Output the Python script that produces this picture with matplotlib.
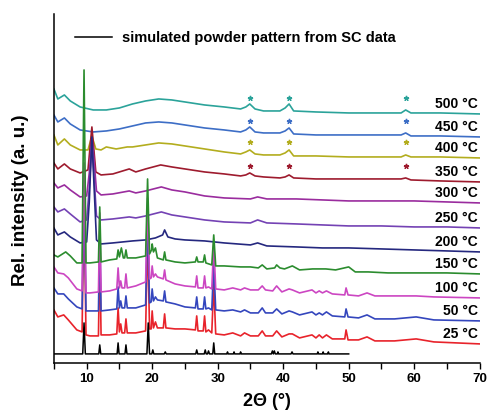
import matplotlib
matplotlib.use('Agg')
import matplotlib.pyplot as plt

plt.rcParams['font.family'] = ['Liberation Sans', 'DejaVu Sans']
plt.rcParams['font.weight'] = 'bold'

# --- data (intensity in arbitrary units) ---
LABELS = ['500 °C', '450 °C', '400 °C', '350 °C', '300 °C', '250 °C',
          '200 °C', '150 °C', '100 °C', '50 °C', '25 °C']
OFFSETS = [249, 226, 205, 181, 160, 135, 111, 89, 65, 42, 19]
COLORS = ['#2ba39a', '#3d6ec6', '#b3ad1e', '#9e1b2e', '#9a2c9e', '#7442b4',
          '#25287f', '#2b8c2e', '#cc46c2', '#3446bd', '#e8232b']
SIM_OFFSET = 9

# amorphous patterns (450-500 °C share the x grid)
X_HT = [5.0, 5.6, 6.6, 7.5, 9.0, 11.0, 13.0, 15.0, 17.0, 19.0, 21.0, 23.0,
        25.0, 28.0, 31.0, 33.5, 34.3, 34.9, 35.7, 37.0, 39.5, 40.3, 40.9,
        41.6, 45.0, 50.0, 55.0, 58.0, 58.7, 59.5, 64.0, 70.0]
Y_500 = [25, 15, 19, 13, 7, 4, 4, 6, 10, 13, 15, 14, 12, 9, 7, 5, 7, 10, 5,
         3, 3, 6, 10, 3, 2, 1, 1, 1, 4, 1, 1, 0]
Y_450 = [22, 15, 19, 13, 7, 5, 6, 8, 11, 14, 15, 14, 12, 9, 7, 5, 7, 10, 5,
         4, 4, 6, 9, 3, 2, 2, 2, 2, 4, 1, 1, 0]

X_400 = [5.0, 5.6, 6.6, 7.5, 9.0, 10.2, 10.8, 11.4, 12.2, 13.0, 14.5, 16.2,
         17.0, 19.0, 21.0, 23.0, 25.0, 28.0, 31.0, 33.5, 34.3, 34.9, 35.7,
         37.0, 39.5, 40.3, 40.9, 41.6, 45.0, 50.0, 55.0, 58.0, 58.7, 59.5,
         64.0, 70.0]
Y_400 = [23, 13, 19, 13, 8, 8, 22, 9, 8, 11, 9, 11, 11, 13, 15, 14, 12, 9,
         6, 4, 6, 8, 4, 3, 3, 5, 8, 2, 2, 1, 1, 1, 3, 1, 1, 0]

X_350 = [5.0, 5.6, 6.6, 7.5, 9.0, 10.2, 10.8, 11.4, 12.2, 14.0, 16.5, 17.5,
         19.0, 21.3, 23.0, 25.0, 28.0, 31.0, 33.5, 34.3, 34.9, 35.7, 37.0,
         39.5, 40.3, 40.9, 41.6, 45.0, 50.0, 55.0, 58.0, 58.7, 59.5, 64.0,
         70.0]
Y_350 = [19, 13, 18, 13, 9, 12, 55, 10, 7, 8, 13, 10, 13, 17, 15, 13, 10, 8,
         6, 7, 9, 6, 5, 4, 5, 7, 4, 3, 3, 3, 3, 4, 2, 1, 0]

X_MID = [5.0, 5.6, 6.6, 7.5, 9.0, 10.0, 10.4, 10.8, 11.1, 11.5, 12.2, 14.0,
         16.5, 17.5, 19.0, 21.4, 23.0, 25.0, 28.0, 31.0, 35.0, 36.1, 37.5,
         42.0, 46.0, 50.0, 55.0, 60.0, 65.0, 70.0]
Y_300 = [20, 15, 18, 13, 6, 7, 30, 65, 45, 12, 8, 9, 12, 10, 12, 16, 13, 11,
         7, 5, 4, 6, 4, 4, 3, 2, 2, 2, 1, 0]
Y_250 = [21, 16, 19, 14, 6, 8, 40, 85, 55, 12, 8, 9, 11, 10, 12, 16, 13, 11,
         8, 6, 5, 8, 5, 4, 3, 2, 2, 1, 1, 0]

X_200 = [5.0, 5.6, 6.6, 7.5, 9.0, 10.0, 10.4, 10.8, 11.1, 11.5, 12.2, 14.0,
         17.0, 19.0, 20.5, 21.6, 21.9, 22.4, 23.5, 25.0, 28.0, 31.0, 35.0,
         36.1, 37.5, 42.0, 46.0, 50.0, 55.0, 60.0, 65.0, 70.0]
Y_200 = [24, 17, 20, 15, 9, 10, 50, 115, 70, 12, 8, 9, 11, 12, 14, 17, 22,
         15, 13, 12, 11, 9, 7, 9, 6, 5, 4, 4, 3, 2, 1, 0]

# crystalline patterns (25-100 °C share the x grid)
X_CR = [5.0, 5.6, 6.5, 7.2, 8.5, 9.3, 9.6, 9.9, 10.5, 11.8, 12.0, 12.2, 13.5,
        14.6, 14.8, 15.0, 15.2, 15.4, 15.8, 16.0, 16.2, 17.5, 19.0, 19.3,
        19.6, 19.85, 20.0, 20.2, 20.5, 20.8, 21.7, 21.9, 22.1, 23.5, 25.0,
        26.6, 26.8, 27.0, 27.8, 28.0, 28.2, 28.6, 29.1, 29.4, 29.7, 31.0,
        32.3, 33.5, 34.1, 35.0, 36.2, 36.8, 37.3, 38.4, 39.0, 39.8, 40.9,
        41.4, 42.5, 44.4, 45.0, 45.5, 46.0, 46.6, 47.5, 49.4, 49.6, 49.9,
        51.5, 52.8, 54.0, 57.0, 60.3, 63.0, 70.0]
Y_25 = [34, 27, 29, 24, 14, 12, 150, 9, 8, 8, 95, 9, 9, 10, 36, 12, 20, 11,
        11, 25, 11, 11, 13, 110, 15, 15, 33, 16, 22, 16, 16, 30, 16, 15, 15,
        14, 28, 13, 13, 28, 12, 14, 11, 60, 10, 9, 11, 8, 11, 8, 8, 13, 8, 8,
        13, 7, 10, 10, 6, 9, 6, 9, 6, 9, 5, 5, 14, 4, 4, 7, 3, 3, 5, 2, 0]
Y_50 = [33, 27, 27, 22, 14, 12, 140, 10, 10, 10, 90, 10, 11, 12, 34, 13, 20,
        13, 13, 25, 13, 13, 16, 105, 18, 19, 32, 20, 24, 21, 20, 30, 19, 17,
        14, 13, 24, 12, 12, 24, 12, 13, 11, 58, 11, 10, 11, 9, 11, 8, 8, 13,
        8, 8, 12, 7, 10, 9, 6, 9, 6, 8, 6, 9, 5, 4, 12, 4, 3, 6, 2, 2, 4, 1, 0]
Y_100 = [31, 25, 24, 20, 9, 7, 135, 5, 5, 6, 85, 6, 7, 9, 30, 10, 17, 10, 10,
         24, 10, 12, 16, 100, 19, 20, 32, 21, 24, 21, 19, 28, 18, 14, 12, 11,
         22, 10, 10, 22, 10, 11, 9, 55, 9, 8, 10, 8, 10, 8, 8, 12, 8, 7, 12, 6,
         9, 8, 5, 8, 5, 7, 5, 7, 4, 3, 10, 3, 2, 5, 2, 2, 2, 1, 0]

X_150 = [5.0, 5.6, 6.8, 7.5, 8.5, 9.3, 9.6, 9.9, 10.5, 11.8, 12.0, 12.2, 13.5,
         14.6, 14.8, 15.0, 15.3, 15.6, 15.8, 16.0, 16.2, 17.5, 19.0, 19.3,
         19.6, 19.9, 20.0, 20.2, 20.5, 20.8, 21.7, 21.9, 22.1, 23.5, 25.0,
         26.6, 26.8, 27.0, 27.8, 28.0, 28.2, 29.1, 29.4, 29.7, 31.0, 33.5,
         35.0, 36.2, 36.8, 37.5, 38.7, 39.0, 39.5, 40.2, 41.4, 42.5, 44.5,
         45.5, 46.5, 48.0, 50.0, 51.0, 53.0, 56.0, 60.0, 65.0, 70.0]
Y_150 = [19, 17, 22, 18, 11, 11, 204, 11, 11, 12, 67, 12, 14, 15, 24, 17, 26,
         16, 16, 24, 16, 16, 18, 95, 20, 24, 30, 22, 26, 16, 14, 22, 14, 12,
         11, 12, 17, 12, 12, 19, 11, 9, 39, 8, 8, 7, 7, 6, 9, 5, 6, 9, 6, 5,
         8, 4, 5, 5, 5, 4, 7, 2, 2, 1, 1, 1, 0]

# simulated pattern from single-crystal data
X_SIM = [5.0, 9.4, 9.6, 9.8, 11.85, 12.0, 12.15, 14.65, 14.8, 14.95, 15.85,
         16.0, 16.15, 19.2, 19.4, 19.6, 19.95, 20.1, 20.25, 21.85, 22.0,
         22.15, 26.65, 26.8, 26.95, 27.95, 28.1, 28.25, 28.45, 28.6, 28.75,
         29.25, 29.4, 29.55, 31.4, 31.5, 31.6, 32.4, 32.5, 32.6, 33.4, 33.5,
         33.6, 38.2, 38.35, 38.5, 38.65, 38.8, 39.1, 39.2, 39.3, 41.2, 41.35,
         41.5, 45.2, 45.3, 45.4, 46.0, 46.1, 46.2, 46.8, 46.9, 47.0, 50.0]
Y_SIM = [0, 0, 31, 0, 0, 9, 0, 0, 11, 0, 0, 9, 0, 0, 31, 0, 0, 4, 0, 0, 2, 0,
         0, 4, 0, 0, 4, 0, 0, 3, 0, 0, 11, 0, 0, 2, 0, 0, 2, 0, 0, 2, 0, 0, 3,
         0, 3, 0, 0, 2, 0, 0, 2, 0, 0, 2, 0, 0, 2, 0, 0, 2, 0, 0]

STAR_POS = [34.9, 40.9, 58.7]
STARRED = ['500 °C', '450 °C', '400 °C', '350 °C']

CURVES = {
    '500 °C': (X_HT, Y_500), '450 °C': (X_HT, Y_450), '400 °C': (X_400, Y_400),
    '350 °C': (X_350, Y_350), '300 °C': (X_MID, Y_300), '250 °C': (X_MID, Y_250),
    '200 °C': (X_200, Y_200), '150 °C': (X_150, Y_150), '100 °C': (X_CR, Y_100),
    '50 °C': (X_CR, Y_50), '25 °C': (X_CR, Y_25),
}

fig = plt.figure(figsize=(4.9, 4.11), dpi=100)
ax = fig.add_axes([0.110, 0.117, 0.869, 0.849])

# top curves first, then the crystalline ones from the bottom up
order = [0, 1, 2, 3, 4, 5, 6, 10, 9, 8, 7]
for i in order:
    lab = LABELS[i]
    xs, ys = CURVES[lab]
    ax.plot(xs, [v + OFFSETS[i] for v in ys], color=COLORS[i], lw=1.2)
    ax.text(69.7, OFFSETS[i] + 10, lab, ha='right', va='center',
            fontsize=10, fontweight='bold')
    if lab in STARRED:
        ax.plot(STAR_POS, [OFFSETS[i] + 16] * len(STAR_POS), ls='none',
                marker=(5, 2, 0), ms=3.8, mew=1.0, color=COLORS[i])

sim, = ax.plot(X_SIM, [v + SIM_OFFSET for v in Y_SIM], color='black', lw=1.1)
ax.legend([sim], ['simulated powder pattern from SC data'], loc='center left',
          bbox_to_anchor=(0.049, 0.931), frameon=False, borderpad=0,
          borderaxespad=0, handlelength=2.55, handletextpad=0.7,
          prop={'size': 10.5, 'weight': 'bold'})

ax.set_xlim(5, 70)
ax.set_ylim(0, 349)
ax.set_xticks([10, 20, 30, 40, 50, 60, 70])
ax.set_xticks([5, 15, 25, 35, 45, 55, 65], minor=True)
ax.set_yticks([])
ax.tick_params(axis='x', which='both', direction='out', length=4, width=1,
               labelsize=9.5, pad=3)
for lbl in ax.get_xticklabels():
    lbl.set_fontweight('bold')
for s in ['top', 'right']:
    ax.spines[s].set_visible(False)
for s in ['left', 'bottom']:
    ax.spines[s].set_linewidth(1.1)

ax.set_xlabel('2Θ (°)', fontsize=13, fontweight='bold', labelpad=6)
ax.set_ylabel('Rel. intensity (a. u.)', fontsize=13.5, fontweight='bold')
ax.yaxis.set_label_coords(-0.058, 0.467)

fig.savefig('out.png', dpi=100)
